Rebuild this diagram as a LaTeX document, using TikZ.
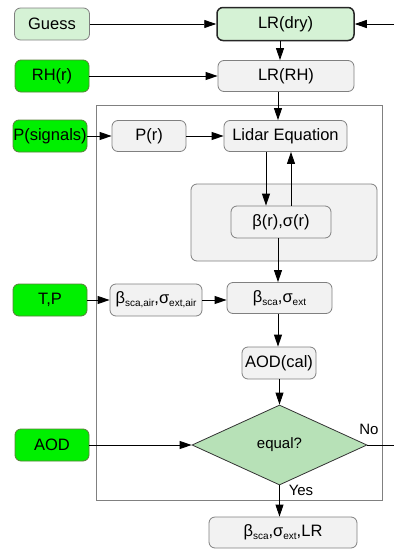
\documentclass[tikz,border=0pt]{standalone}
\usepackage{fontspec}
\setmainfont{Liberation Sans}
\usetikzlibrary{arrows.meta,shapes.geometric}
\definecolor{palegreen}{HTML}{D5F2D5}
\definecolor{brightgreen}{HTML}{00F000}
\definecolor{greenline}{HTML}{5A7F3A}
\definecolor{diamondgreen}{HTML}{B7E1B7}
\definecolor{boxgray}{HTML}{F2F2F2}
\definecolor{linegray}{HTML}{808080}
\newcommand{\lowtxt}[1]{\raisebox{-0.35ex}{\fontsize{10}{10}\selectfont #1}}

\begin{document}
\begin{tikzpicture}[x=1pt,y=-1pt,
  font=\fontsize{16.5}{19}\selectfont,
  procbox/.style={draw=linegray, fill=boxgray, rounded corners=6pt, line width=0.8pt, inner sep=0pt},
  inbox/.style={draw=greenline, fill=brightgreen, rounded corners=6pt, line width=0.8pt, inner sep=0pt, minimum width=74pt, minimum height=32pt},
  arr/.style={-{Triangle[length=12pt,width=8pt]}, line width=0.9pt}]
\useasboundingbox (0,0) rectangle (394,552);
\draw[linegray, line width=0.9pt] (96,105) rectangle (382,500);
\draw[procbox] (191,184) rectangle (377,261);
\coordinate (col) at (280,0);
\coordinate (loopin) at (394,24);
\coordinate (loopout) at (394,445);

\node[procbox, fill=palegreen, minimum width=75pt, minimum height=32pt] (guess) at (52,24) {Guess};
\node[procbox, fill=palegreen, draw=black!85, line width=1.5pt, minimum width=137pt, minimum height=33pt] (lrdry) at (285.5,24) {LR(dry)};
\node[inbox] (rh) at (52,76) {RH(r)};
\node[procbox, minimum width=136pt, minimum height=31pt] (lrrh) at (286,76) {LR(RH)};
\node[inbox] (psig) at (50,136) {P(signals)};
\node[procbox, minimum width=74pt, minimum height=31pt] (pr) at (149,136) {P(r)};
\node[procbox, minimum width=123pt, minimum height=31pt] (lidar) at (285.5,136) {Lidar Equation};
\node[procbox, minimum width=100pt, minimum height=32pt] (beta) at (281,222) {β(r),σ(r)};
\node[inbox] (tp) at (50,300) {T,P};
\node[procbox, minimum width=92pt, minimum height=32pt] (bair) at (156,300) {β\lowtxt{sca,air},σ\lowtxt{ext,air}};
\node[procbox, minimum width=105pt, minimum height=31pt] (bsca) at (279.5,298) {β\lowtxt{sca},σ\lowtxt{ext}};
\node[procbox, minimum width=74pt, minimum height=32pt] (aodcal) at (279,363) {AOD(cal)};
\node[diamond, draw=black!80, fill=diamondgreen, line width=0.8pt, aspect=2.19, minimum width=175pt, minimum height=80pt, inner sep=0pt, font=\fontsize{15}{18}\selectfont] (equal) at (279.5,445) {equal?};
\node[inbox] (aod) at (52,445) {AOD};
\node[procbox, minimum width=148pt, minimum height=31pt] (result) at (283,532.5) {β\lowtxt{sca},σ\lowtxt{ext},LR};

\draw[arr] (guess) -- (lrdry);
\draw[arr] (loopin) -- (lrdry);
\draw[arr] (lrdry.south -| col) -- (lrrh.north -| col);
\draw[arr] (rh) -- (lrrh);
\draw[arr] (lrrh.south -| 278,0) -- (lidar.north -| 278,0);
\draw[arr] (psig) -- (pr);
\draw[arr] (pr) -- (lidar);
\draw[arr] (lidar.south -| 266,0) -- (beta.north -| 266,0);
\draw[arr] (beta.north -| 291,0) -- (lidar.south -| 291,0);
\draw[arr] (beta.south -| 278,0) -- (bsca.north -| 278,0);
\draw[arr] (tp) -- (bair);
\draw[arr] (bair) -- (bsca.west |- bair);
\draw[arr] (bsca.south -| 278,0) -- (aodcal.north -| 278,0);
\draw[arr] (aodcal.south -| 279.5,0) -- (equal.north);
\draw[arr] (aod) -- (equal);
\draw[line width=0.9pt] (equal.east) -- (loopout);
\draw[arr] (equal.south) -- (result.north -| equal.south);
\node[font=\fontsize{15}{18}\selectfont] (nolbl) at (369,429) {No};
\node[font=\fontsize{15}{18}\selectfont] (yeslbl) at (301,490) {Yes};
\end{tikzpicture}
\end{document}
